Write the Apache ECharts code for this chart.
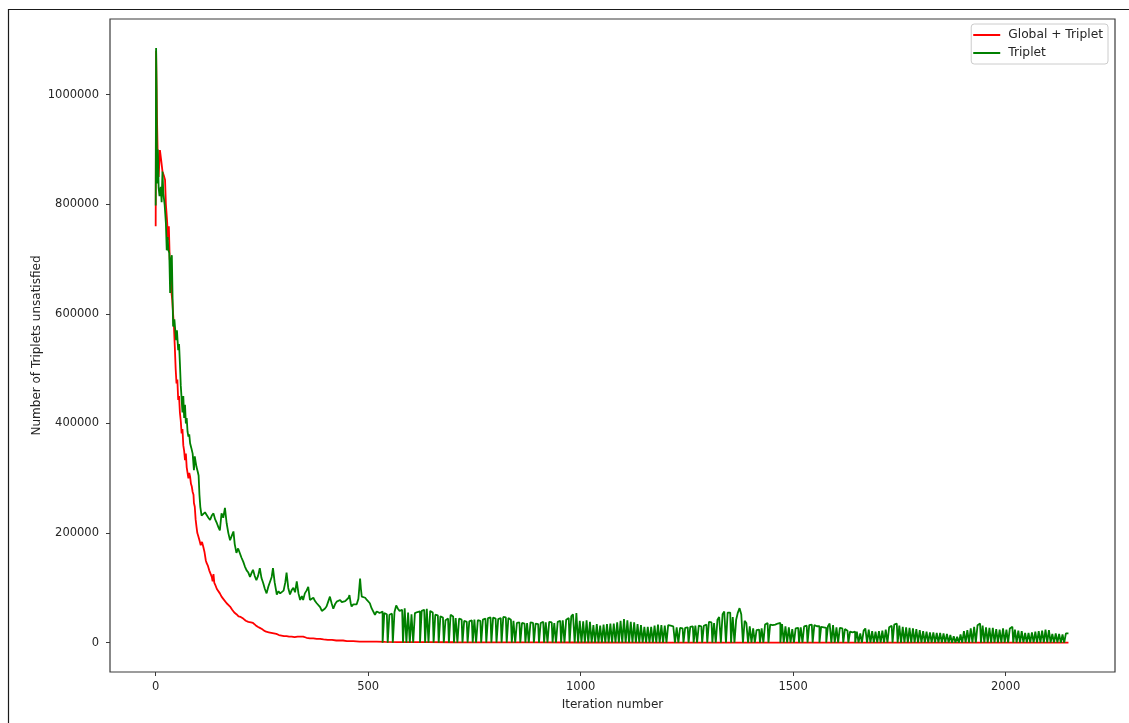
<!DOCTYPE html>
<html>
<head>
<meta charset="utf-8">
<title>Triplets unsatisfied per iteration</title>
<script src="https://cdn.jsdelivr.net/npm/echarts@6/dist/echarts.min.js"></script>
<style>
  html, body { margin: 0; padding: 0; background: #ffffff; }
  #chart { width: 1129px; height: 723px; }
</style>
</head>
<body>
<div id="chart"></div>
<script>
// Axis ticks
const xTicks = [0, 500, 1000, 1500, 2000];
const yTicks = [0, 200000, 400000, 600000, 800000, 1000000];

// "Global + Triplet" run: [iteration, unsatisfied triplets]
const globalTriplet = [
  [0,760000],[1,1080000],[3,960000],[5,880000],[7,850000],[10,899000],[13,880000],[16,860000],
  [19,853000],[22,845000],[24,800000],[27,768000],[29,735000],[31,760000],[33,700000],[35,690000],
  [37,640000],[39,625000],[41,600000],[43,576000],[45,540000],[47,500000],[49,473000],[51,480000],
  [53,443000],[55,450000],[57,420000],[59,405000],[61,382000],[63,390000],[65,360000],[67,350000],
  [69,333000],[71,345000],[73,320000],[75,310000],[77,300000],[79,310000],[81,303000],[83,290000],
  [85,285000],[87,275000],[89,270000],[90,255000],[92,248000],[94,225000],[96,212000],[98,200000],
  [100,195000],[103,187000],[106,178000],[109,184000],[112,175000],[115,165000],[118,150000],
  [120,145000],[123,140000],[126,132000],[129,126000],[132,120000],[134,112000],[136,125000],
  [138,109000],[141,104000],[144,98000],[147,95000],[151,90000],[155,84000],[159,80000],[163,78000],
  [167,72000],[171,70000],[175,66000],[180,60000],[185,55000],[190,52000],[195,48000],[200,47000],
  [206,44000],[212,40000],[218,38000],[224,37000],[229,36000],[235,32000],[240,29000],[245,27000],
  [250,25000],[255,22000],[260,20000],[266,19000],[272,18000],[278,17000],[284,16000],[290,14000],
  [296,13000],[302,12000],[308,12000],[314,11000],[320,11000],[327,10000],[334,11000],[340,11000],
  [347,11000],[355,9000],[363,8000],[371,8000],[379,7000],[387,7000],[395,6000],[405,5000],
  [415,5000],[425,4000],[435,4000],[441,4000],[450,3000],[465,3000],[480,2000],[500,2000],
  [520,2000],[540,1500],[570,1200],[600,1000],[640,1000],[700,800],[800,600],[900,500],
  [1000,400],[1200,300],[1400,300],[1600,200],[1800,200],[2000,200],[2148,200]
];

// "Triplet" run, first 530 iterations: [iteration, unsatisfied triplets]
const tripletHead = [
  [0,798000],[1,1085000],[2,1010000],[3,838000],[5,900000],[7,830000],[9,815000],[12,832000],
  [14,804000],[16,860000],[18,820000],[21,800000],[24,766000],[26,716000],[28,740000],[30,716000],
  [32,711000],[34,638000],[36,700000],[38,707000],[40,620000],[41,577000],[44,590000],[48,552000],
  [50,570000],[53,534000],[55,545000],[57,510000],[59,470000],[61,467000],[63,420000],[65,450000],
  [67,410000],[69,434000],[71,400000],[73,410000],[75,385000],[77,376000],[79,380000],[81,364000],
  [84,355000],[87,345000],[90,315000],[92,340000],[94,330000],[96,321000],[99,312000],[101,305000],
  [103,270000],[105,248000],[108,232000],[112,230000],[116,238000],[120,236000],[124,228000],
  [128,224000],[132,232000],[136,236000],[140,225000],[144,218000],[148,210000],[151,205000],
  [155,236000],[159,228000],[163,246000],[167,218000],[171,200000],[175,187000],[179,195000],
  [183,203000],[186,180000],[190,164000],[194,172000],[198,169000],[202,155000],[206,148000],
  [210,139000],[214,132000],[218,128000],[222,120000],[226,128000],[229,133000],[233,122000],
  [237,114000],[241,122000],[245,136000],[249,118000],[253,109000],[257,98000],[261,90000],
  [265,102000],[269,102000],[273,120000],[276,136000],[280,110000],[285,88000],[289,94000],
  [293,90000],[297,87000],[301,95000],[305,110000],[308,128000],[312,100000],[316,88000],
  [320,96000],[324,100000],[328,92000],[332,112000],[336,90000],[340,78000],[344,85000],
  [347,78000],[351,90000],[355,95000],[359,102000],[363,78000],[367,80000],[371,82000],
  [375,76000],[379,72000],[383,72000],[387,65000],[391,58000],[394,57000],[398,62000],
  [402,66000],[406,75000],[410,84000],[414,72000],[418,62000],[422,70000],[426,75000],
  [430,78000],[434,78000],[438,74000],[442,72000],[446,76000],[450,78000],[454,82000],
  [456,87000],[459,72000],[461,66000],[465,70000],[469,72000],[473,70000],[477,80000],
  [481,117000],[483,98000],[485,84000],[489,84000],[493,82000],[497,78000],[501,75000],
  [504,72000],[508,63000],[512,60000],[516,51000],[520,57000],[524,55000],[528,54000]
];

// "Triplet" run from iteration 532 on, one value every 4 iterations
const tailStart = 532;
const tailStep = 4;
const tripletTail = [
  57000,0,54000,52000,0,51000,53000,0,56000,68000,
  62000,58000,60000,0,63000,0,55000,0,52000,0,
  54000,56000,57000,0,58000,60000,0,62000,0,58000,
  55000,0,51000,50000,0,48000,46000,0,41000,44000,
  0,51000,48000,0,45000,0,44000,42000,0,40000,
  38000,0,39000,41000,0,42000,0,41000,40000,0,
  42000,44000,0,45000,46000,0,46000,44000,0,43000,
  45000,0,47000,46000,0,45000,42000,0,40000,0,
  36000,37000,0,36000,35000,0,36000,0,37000,36000,
  0,35000,34000,0,36000,38000,0,37000,0,38000,
  37000,0,36000,0,38000,40000,0,41000,0,42000,
  45000,0,48000,52000,0,54000,0,40000,0,39000,
  0,41000,0,38000,0,32000,0,34000,0,31000,
  0,33000,0,34000,0,35000,0,35000,0,37000,
  0,40000,0,43000,0,41000,0,38000,0,37000,
  0,34000,0,32000,0,29000,0,29000,0,29000,
  0,31000,0,33000,0,32000,0,31000,0,32000,
  31000,30000,29000,0,28000,0,27000,26000,0,27000,
  28000,0,29000,30000,0,31000,0,31000,30000,0,
  31000,33000,0,38000,37000,0,36000,0,42000,47000,
  0,52000,57000,0,55000,55000,0,47000,0,42000,
  55000,63000,52000,0,40000,36000,0,30000,0,26000,
  0,23000,24000,0,26000,0,33000,36000,0,33000,
  32000,33000,34000,35000,36000,0,34000,0,30000,0,
  28000,0,25000,0,26000,27000,0,28000,0,30000,
  31000,0,32000,33000,0,32000,30000,30000,0,29000,
  28000,27000,0,30000,35000,0,32000,0,28000,0,
  27000,26000,0,25000,22000,0,20000,19000,20000,0,
  20000,0,17000,0,22000,26000,0,24000,0,21000,
  0,20000,0,21000,0,22000,0,24000,0,28000,
  31000,0,33000,35000,0,31000,0,29000,0,28000,
  0,27000,0,26000,0,25000,0,23000,0,21000,
  0,20000,0,19000,0,19000,0,18000,0,18000,
  0,17000,0,16000,0,14000,0,12000,0,11000,
  0,15000,0,21000,0,23000,0,26000,0,29000,
  0,32000,35000,0,31000,0,28000,0,27000,0,
  27000,0,25000,0,24000,0,26000,0,24000,0,
  26000,29000,0,24000,0,22000,0,21000,0,18000,
  0,18000,0,19000,0,20000,0,21000,0,22000,
  0,24000,0,23000,0,16000,0,17000,0,16000,
  0,15000,0,17000,17000
];

// Tail series continues from the last head point; its drops to zero are
// drawn as vertical steps.
const tripletTailData = [tripletHead[tripletHead.length - 1]];
tripletTail.forEach((v, i) => tripletTailData.push([tailStart + i * tailStep, v]));

const FONT = 'DejaVu Sans';
const INK = '#262626';
const RED = '#ff0000';
const GREEN = '#008000';
const plain = v => String(v);

const chart = echarts.init(document.getElementById('chart'), null, { renderer: 'canvas' });

chart.setOption({
  animation: false,
  backgroundColor: '#ffffff',
  textStyle: { fontFamily: FONT },
  graphic: [{
    type: 'rect',
    silent: true,
    shape: { x: 8.5, y: 9.5, width: 1300, height: 800 },
    style: { fill: 'none', stroke: '#1a1a1a', lineWidth: 1.2 }
  }],
  grid: {
    left: 110, right: 14, top: 19, bottom: 51,
    show: true,
    borderColor: '#3a3a3a',
    borderWidth: 1.2,
    backgroundColor: 'transparent'
  },
  legend: {
    right: 21,
    top: 24,
    orient: 'vertical',
    itemWidth: 27,
    itemHeight: 2,
    itemGap: 6,
    padding: [5, 5, 5, 2],
    backgroundColor: 'rgba(255,255,255,0.8)',
    borderColor: '#cccccc',
    borderWidth: 1,
    borderRadius: 3,
    textStyle: { fontFamily: FONT, fontSize: 12.25, color: INK, padding: [0, 0, 0, 3] },
    data: [
      { name: 'Global + Triplet', icon: 'rect', itemStyle: { color: RED } },
      { name: 'Triplet', icon: 'rect', itemStyle: { color: GREEN } }
    ]
  },
  xAxis: {
    type: 'value',
    min: -107.5,
    max: 2257.5,
    name: 'Iteration number',
    nameLocation: 'middle',
    nameGap: 27,
    nameMoveOverlap: false,
    nameTextStyle: { fontFamily: FONT, fontSize: 12, color: INK },
    axisLine: { show: false, onZero: false },
    axisTick: { show: true, length: 4, customValues: xTicks, lineStyle: { color: '#3a3a3a', width: 1 } },
    axisLabel: { customValues: xTicks, formatter: plain, margin: 9, fontFamily: FONT, fontSize: 11.5, color: INK },
    splitLine: { show: false }
  },
  yAxis: {
    type: 'value',
    min: -53467,
    max: 1138139,
    name: 'Number of Triplets unsatisfied',
    nameLocation: 'middle',
    nameGap: 67,
    nameMoveOverlap: false,
    nameTextStyle: { fontFamily: FONT, fontSize: 12, color: INK },
    axisLine: { show: false, onZero: false },
    axisTick: { show: true, length: 4, customValues: yTicks, lineStyle: { color: '#3a3a3a', width: 1 } },
    axisLabel: { customValues: yTicks, formatter: plain, margin: 11, fontFamily: FONT, fontSize: 11.5, color: INK },
    splitLine: { show: false }
  },
  series: [
    {
      name: 'Global + Triplet',
      type: 'line',
      data: globalTriplet,
      symbol: 'none',
      showSymbol: false,
      lineStyle: { color: RED, width: 1.8 },
      itemStyle: { color: RED },
      z: 2
    },
    {
      name: 'Triplet',
      type: 'line',
      data: tripletHead,
      symbol: 'none',
      showSymbol: false,
      lineStyle: { color: GREEN, width: 1.8 },
      itemStyle: { color: GREEN },
      z: 3
    },
    {
      name: 'Triplet',
      type: 'line',
      data: tripletTailData,
      step: 'middle',
      symbol: 'none',
      showSymbol: false,
      lineStyle: { color: GREEN, width: 1.8 },
      itemStyle: { color: GREEN },
      z: 3
    }
  ]
});
</script>
</body>
</html>
